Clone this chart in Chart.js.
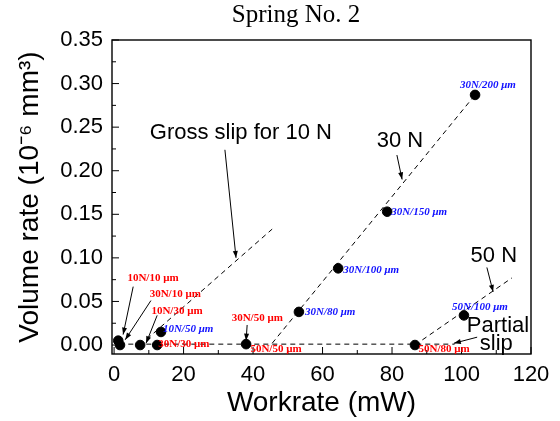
<!DOCTYPE html>
<html>
<head>
<meta charset="utf-8">
<script src="https://cdn.jsdelivr.net/npm/chart.js@4.4.1/dist/chart.umd.min.js"></script>
<style>
  html, body { margin: 0; padding: 0; background: #fff; }
</style>
</head>
<body>
<canvas id="springChart" width="560" height="421"></canvas>
<script>
// measured points: workrate (mW) vs volume rate (10^-6 mm^3)
const workrate   = [1.2, 1.7, 7.5, 12.4, 13.5, 38.0, 53.2, 64.5, 78.6, 103.9, 86.6, 100.7];
const volumeRate = [0.005, 0.000, 0.000, 0.000, 0.015, 0.001, 0.038, 0.088, 0.153, 0.287, 0.000, 0.034];

// dashed trend lines (end points)
const partialX = [1.5, 98];    const partialY = [0.001, 0.001];
const slip10X  = [7.5, 45.5];  const slip10Y  = [0.000, 0.133];
const slip30X  = [45.5, 103.9]; const slip30Y = [0.002, 0.287];
const slip50X  = [86.6, 114.5]; const slip50Y = [0.000, 0.077];

const xTicks = [0, 20, 40, 60, 80, 100, 120];
const yTicks = [0, 0.05, 0.10, 0.15, 0.20, 0.25, 0.30, 0.35];

// condition labels next to the points
const condText = ['10N/10 μm', '30N/10 μm', '10N/30 μm', '10N/50 μm', '30N/30 μm', '30N/50 μm', '50N/50 μm',
                  '30N/80 μm', '30N/100 μm', '30N/150 μm', '30N/200 μm', '50N/100 μm', '50N/80 μm'];
const condX    = [11.2, 17.6, 18.1, 21.3, 20.1, 41.2, 46.6, 62.2, 74.0, 87.8, 107.6, 105.3, 95.0];
const condY    = [0.077, 0.058, 0.039, 0.018, 0.001, 0.031, -0.005, 0.038, 0.086, 0.153, 0.298, 0.044, -0.005];
const condBlue = [false, false, false, true, false, false, false, true, true, true, true, true, false];

// big notes and arrows
const notes = [
    { text: 'Gross slip for 10 N', x: 36.5, y: 0.243 },
    { text: '30 N', x: 82.3, y: 0.234 },
    { text: '50 N', x: 109.3, y: 0.102 },
    { text: 'Partial', x: 110.5, y: 0.022 },
    { text: 'slip', x: 110.0, y: 0.001 }
];
const arrows = [
    [31.9, 0.224, 35.1, 0.100],
    [81.4, 0.218, 82.9, 0.190],
    [107.3, 0.089, 109.1, 0.061],
    [104.5, 0.009, 97.8, 0.002],
    [5.5, 0.067, 2.6, 0.012],
    [10.6, 0.051, 3.2, 0.006],
    [12.4, 0.034, 9.2, 0.002],
    [38.3, 0.023, 38.0, 0.005]
];

const sans = "Arial, 'Liberation Sans', sans-serif";
const serif = "'Times New Roman', 'Liberation Serif', serif";

function pairs(xs, ys) {
    return xs.map((v, i) => ({ x: v, y: ys[i] }));
}

function dashed(xs, ys) {
    return {
        data: pairs(xs, ys),
        showLine: true,
        borderColor: '#000',
        borderWidth: 1,
        borderDash: [5, 4],
        pointRadius: 0
    };
}

function drawArrow(ctx, x1, y1, x2, y2) {
    const ang = Math.atan2(y2 - y1, x2 - x1);
    const h = 7, w = 2.5;
    ctx.beginPath();
    ctx.moveTo(x1, y1);
    ctx.lineTo(x2, y2);
    ctx.stroke();
    ctx.beginPath();
    ctx.moveTo(x2, y2);
    ctx.lineTo(x2 - h * Math.cos(ang) + w * Math.sin(ang), y2 - h * Math.sin(ang) - w * Math.cos(ang));
    ctx.lineTo(x2 - h * Math.cos(ang) - w * Math.sin(ang), y2 - h * Math.sin(ang) + w * Math.cos(ang));
    ctx.closePath();
    ctx.fill();
}

// frame, inward ticks, notes and title
const decor = {
    id: 'decor',
    afterDraw(chart) {
        const { ctx, chartArea: a, scales: { x, y } } = chart;
        ctx.save();
        ctx.strokeStyle = '#000';
        ctx.fillStyle = '#000';
        ctx.lineWidth = 1.4;
        ctx.strokeRect(a.left, a.top, a.right - a.left, a.bottom - a.top);

        ctx.lineWidth = 1;
        ctx.beginPath();
        for (let v = 0; v <= 120; v += 10) {
            const px = x.getPixelForValue(v);
            const len = v % 20 === 0 ? 7 : 4;
            ctx.moveTo(px, a.bottom);
            ctx.lineTo(px, a.bottom - len);
        }
        for (let i = 0; i <= 14; i++) {
            const py = y.getPixelForValue(i * 0.025);
            const len = i % 2 === 0 ? 7 : 4;
            ctx.moveTo(a.left, py);
            ctx.lineTo(a.left + len, py);
        }
        ctx.stroke();

        // arrows
        arrows.forEach(ar => {
            drawArrow(ctx, x.getPixelForValue(ar[0]), y.getPixelForValue(ar[1]),
                      x.getPixelForValue(ar[2]), y.getPixelForValue(ar[3]));
        });

        // big notes
        ctx.textAlign = 'center';
        ctx.textBaseline = 'middle';
        notes.forEach(n => {
            ctx.font = '22px ' + sans;
            ctx.fillText(n.text, x.getPixelForValue(n.x), y.getPixelForValue(n.y));
        });

        // condition labels
        condText.forEach((t, i) => {
            ctx.fillStyle = condBlue[i] ? '#1010ff' : '#ff0000';
            ctx.font = (condBlue[i] ? 'italic bold 11px ' : 'bold 11px ') + serif;
            ctx.fillText(t, x.getPixelForValue(condX[i]), y.getPixelForValue(condY[i]));
        });

        // title
        ctx.fillStyle = '#000';
        ctx.font = '25px ' + serif;
        ctx.textBaseline = 'alphabetic';
        ctx.fillText('Spring No. 2', 296, 22);
        ctx.restore();
    }
};

const ctx = document.getElementById('springChart').getContext('2d');
const springChart = new Chart(ctx, {
    type: 'scatter',
    data: {
        datasets: [
            dashed(partialX, partialY),
            dashed(slip10X, slip10Y),
            dashed(slip30X, slip30Y),
            dashed(slip50X, slip50Y),
            {
                data: pairs(workrate, volumeRate),
                backgroundColor: '#000',
                borderColor: '#000',
                pointRadius: 4.8
            }
        ]
    },
    options: {
        responsive: false,
        animation: false,
        layout: { padding: { top: 40, right: 29, left: 0, bottom: 0 } },
        plugins: {
            legend: { display: false },
            tooltip: { enabled: false }
        },
        scales: {
            x: {
                type: 'linear',
                min: -0.6,
                max: 120,
                afterFit: s => { s.height = 67; },
                afterBuildTicks: s => { s.ticks = xTicks.map(v => ({ value: v })); },
                grid: { display: false, drawTicks: false },
                border: { display: false },
                ticks: { color: '#000', font: { family: sans, size: 22 }, padding: 8, maxRotation: 0 },
                title: {
                    display: true,
                    text: 'Workrate (mW)',
                    color: '#000',
                    font: { family: sans, size: 28 },
                    padding: { top: 0, bottom: 1 }
                }
            },
            y: {
                type: 'linear',
                min: -0.0103,
                max: 0.35,
                afterFit: s => { s.width = 112; },
                afterBuildTicks: s => { s.ticks = yTicks.map(v => ({ value: v })); },
                grid: { display: false, drawTicks: false },
                border: { display: false },
                ticks: { color: '#000', font: { family: sans, size: 22 }, padding: 9, callback: v => v.toFixed(2) },
                title: {
                    display: true,
                    text: 'Volume rate (10⁻⁶ mm³)',
                    color: '#000',
                    font: { family: sans, size: 28 },
                    padding: { top: 13, bottom: 0 }
                }
            }
        }
    },
    plugins: [decor]
});
</script>
</body>
</html>
